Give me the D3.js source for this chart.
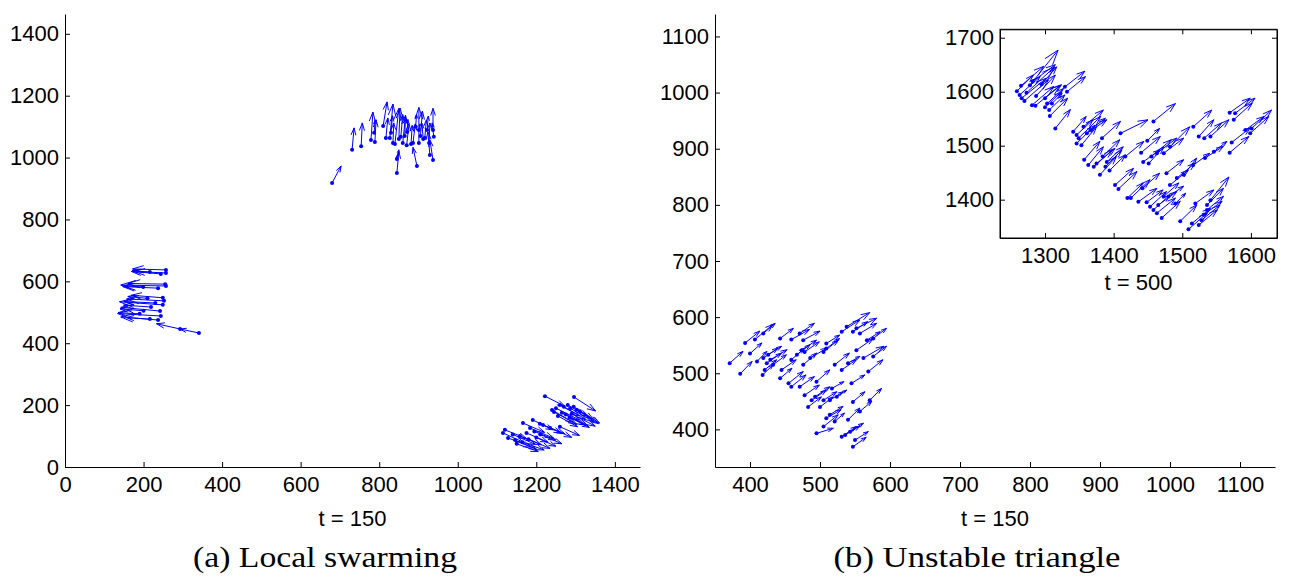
<!DOCTYPE html>
<html>
<head>
<meta charset="utf-8">
<script src="https://cdn.jsdelivr.net/npm/d3@7"></script>
<style>
  body { margin: 0; background: #fff; }
  svg { display: block; }
</style>
</head>
<body>
<svg id="chart" width="1289" height="576"></svg>
<script>
// agents as [x, y, vx, vy]

// (a) local swarming, t = 150
const leftCluster = [
  [257,627,-80,5],[257,637,-85,3],[244,624,-75,8],[216,630,-45,4],
  [257,585,-115,3],[255,591,-95,2],[237,578,-90,5],[199,582,-50,3],
  [249,547,-80,8],[252,537,-95,6],[249,524,-110,10],[219,517,-70,6],
  [242,504,-100,12],[244,488,-110,8],[216,478,-60,5],[237,475,-95,10],
  [293,446,-60,17],[341,433,-48,13],[200,505,-60,6],[230,530,-80,5],
  [190,495,-55,4],[210,545,-50,6]
];
const topCluster = [
  [680,918,23,55],[731,1025,5,71],[754,1037,3,75],[779,1057,5,90],[789,1050,3,72],[787,1080,3,42],
  [810,1102,10,78],[817,1063,5,65],[827,1063,8,110],[835,1047,2,65],[840,1044,10,115],[845,995,5,30],
  [845,950,5,70],[855,1067,5,72],[860,1047,7,90],[871,1083,2,40],[881,1044,3,60],[886,1047,6,62],
  [896,973,-10,60],[901,1047,0,115],[901,1089,3,20],[916,1063,4,58],[922,1089,3,45],[929,1008,-5,75],
  [937,992,-8,65],[937,1089,0,70],[939,1067,-4,45],[927,1047,2,65],
  [850,1060,3,100],[865,1070,2,60],[905,1070,5,80],[912,1060,-3,50],[830,1080,4,55],[870,1040,6,70],[893,1100,2,40]
];
const lowerCluster = [
  [1222,229,50,-32],[1296,226,55,-45],[1240,184,55,-40],[1250,190,60,-38],[1260,200,50,-35],
  [1270,195,55,-40],[1280,200,52,-36],[1286,190,58,-42],[1295,195,50,-40],[1303,185,55,-45],
  [1265,175,60,-40],[1275,170,55,-35],[1290,172,60,-40],[1255,165,50,-35],[1311,180,50,-38],
  [1245,178,58,-40],[1285,160,50,-32],[1166,142,55,-30],[1191,152,52,-32],[1209,140,55,-30],
  [1184,126,60,-33],[1217,136,55,-28],[1235,126,55,-30],[1260,130,50,-28],[1120,120,55,-28],
  [1115,110,52,-30],[1128,94,60,-30],[1146,87,55,-30],[1158,100,55,-28],[1140,105,58,-32],
  [1175,110,55,-30],[1195,115,55,-28],[1200,95,50,-28],[1180,90,55,-30],[1165,80,55,-25],
  [1210,105,55,-30],[1150,75,55,-25]
];

// (b) unstable triangle, t = 150
const triangleNow = [
  [393,554,21,21],[407,560,26,27],[419,571,17,18],[443,562,19,18],[459,560,26,18],[471,571,21,18],
  [476,559,24,16],[371,518,19,21],[386,499,17,22],[400,535,17,19],[410,521,14,18],[418,497,15,18],
  [419,527,21,18],[424,518,21,18],[429,524,24,18],[433,515,19,18],[443,491,17,18],[445,506,21,18],
  [459,524,19,21],[467,533,19,18],[455,482,21,21],[459,476,21,21],[471,476,21,18],[476,515,19,21],
  [486,527,24,18],[495,485,19,21],[505,538,21,21],[509,544,19,18],[521,515,21,21],[531,506,21,18],
  [517,473,17,12],[531,574,26,21],[538,583,33,25],[547,574,21,18],[552,580,29,18],[557,571,24,18],
  [567,559,19,15],[576,562,19,18],[552,541,24,21],[562,527,29,21],[540,518,17,12],[545,482,19,15],
  [569,503,21,21],[576,530,19,18],[571,452,17,21],[547,449,17,18],[478,461,21,18],[483,440,19,18],
  [488,452,21,18],[493,458,21,18],[500,440,19,18],[505,452,19,15],[514,452,19,15],[524,458,14,12],
  [495,393,24,9],[505,405,21,21],[509,420,21,15],[514,426,19,15],[521,414,14,15],[531,387,21,18],
  [536,390,21,16],[543,396,19,15],[547,369,19,17],[550,381,19,15],[557,432,17,18],[540,417,17,21],
  [426,533,19,15],[421,506,17,18],[474,541,21,18],[478,538,21,18],[509,553,19,15]
];

// inset, t = 500
const triangleLater = [
  [1259,1601,24,30],[1265,1611,33,36],[1263,1594,30,34],[1266,1588,36,37],[1270,1583,35,39],
  [1273,1598,41,48],[1278,1612,41,65],[1282,1619,33,31],[1281,1575,32,35],[1286,1574,36,38],
  [1287,1592,28,39],[1295,1614,22,32],[1300,1588,24,25],[1303,1578,24,28],[1300,1571,24,29],
  [1306,1566,23,28],[1307,1555,26,33],[1315,1532,22,35],[1329,1609,29,29],[1332,1600,27,28],
  [1310,1578,15,19],
  [1341,1526,19,28],[1346,1520,24,28],[1349,1514,32,40],[1346,1504,27,34],[1353,1501,22,34],
  [1356,1535,29,31],[1361,1523,29,25],[1366,1529,22,22],[1383,1514,27,31],
  [1357,1474,23,34],[1363,1464,22,34],[1371,1461,27,31],[1375,1467,27,28],[1380,1446,24,34],
  [1388,1461,24,31],[1394,1454,23,29],[1390,1470,24,28],[1384,1480,25,31],
  [1410,1523,40,25],[1458,1545,32,33],[1440,1487,28,30],[1449,1509,18,23],[1443,1470,24,22],
  [1451,1467,22,31],[1455,1480,29,31],[1463,1486,29,28],[1473,1486,29,28],[1482,1498,29,37],
  [1477,1449,25,25],[1402,1427,27,31],[1407,1420,27,32],[1420,1403,23,28],[1425,1403,28,34],
  [1436,1396,27,25],[1442,1421,25,28],[1448,1395,24,23],[1453,1387,24,28],[1458,1381,24,28],
  [1463,1375,27,28],[1470,1366,27,31],[1465,1390,27,25],[1473,1406,22,25],[1480,1406,22,19],
  [1490,1393,15,19],[1482,1427,27,28],[1492,1440,27,28],[1502,1446,19,31],[1516,1464,24,22],
  [1516,1535,27,31],[1524,1517,22,31],[1532,1514,25,28],[1541,1517,27,31],[1533,1477,27,22],
  [1546,1489,19,19],[1569,1561,30,27],[1575,1548,27,31],[1577,1560,29,28],[1569,1487,28,30],
  [1572,1506,27,27],[1592,1529,27,25],[1599,1523,27,31],[1601,1532,29,34],
  [1497,1360,24,30],[1509,1345,27,30],[1514,1356,27,28],[1524,1353,27,28],[1528,1362,27,28],
  [1531,1372,27,25],[1536,1381,24,25],[1519,1393,27,25],[1536,1390,24,31],[1541,1399,27,43],
  [1417,1480,27,28]
];

// tick labels
const ticksA = [0,200,400,600,800,1000,1200,1400];
const ticksBx = [400,500,600,700,800,900,1000,1100];
const ticksBy = [400,500,600,700,800,900,1000,1100];
const ticksInsetX = [1300,1400,1500,1600];
const ticksInsetY = [1400,1500,1600,1700];

const svg = d3.select("#chart");
const tickFont = "'Liberation Sans', Arial, sans-serif";
const blue = "#0000ff";

function styleAxis(g){
  g.attr("font-family", tickFont).attr("font-size", 22);
  g.selectAll("text").attr("fill", "#000");
  g.selectAll("line").attr("stroke", "#000");
  g.select(".domain").attr("stroke", "#000");
}

// quiver: line from agent to tip, open head at tip, dot at agent
function quiver(g, data, sx, sy){
  g.selectAll(null).data(data).join("path")
    .attr("fill", "none")
    .attr("stroke", blue)
    .attr("stroke-width", 1)
    .attr("d", d => {
      let x0 = sx(d[0]), y0 = sy(d[1]);
      let x1 = sx(d[0] + d[2]), y1 = sy(d[1] + d[3]);
      let dx = x1 - x0, dy = y1 - y0;
      let h = 0.33, w = 0.33 * 0.33;
      let ax = x1 - h*dx - w*dy, ay = y1 - h*dy + w*dx;
      let bx = x1 - h*dx + w*dy, by = y1 - h*dy - w*dx;
      return `M${x0},${y0}L${x1},${y1}M${ax},${ay}L${x1},${y1}L${bx},${by}`;
    });
  g.selectAll(null).data(data).join("circle")
    .attr("cx", d => sx(d[0]))
    .attr("cy", d => sy(d[1]))
    .attr("r", 2)
    .attr("fill", blue);
}

function panel(opt){
  let g = svg.append("g");
  let x = d3.scaleLinear().domain(opt.xd).range(opt.xr);
  let y = d3.scaleLinear().domain(opt.yd).range(opt.yr);

  if(opt.box){
    g.append("rect")
      .attr("x", opt.xr[0]).attr("y", opt.yr[1])
      .attr("width", opt.xr[1] - opt.xr[0]).attr("height", opt.yr[0] - opt.yr[1])
      .attr("fill", "#fff").attr("stroke", "#000");
  }

  g.append("g").attr("transform", `translate(0,${opt.yr[0]})`)
    .call(d3.axisBottom(x).tickValues(opt.xt).tickFormat(d3.format("d"))
      .tickSizeInner(-5).tickSizeOuter(0).tickPadding(9))
    .call(styleAxis);
  g.append("g").attr("transform", `translate(${opt.xr[0]},0)`)
    .call(d3.axisLeft(y).tickValues(opt.yt).tickFormat(d3.format("d"))
      .tickSizeInner(-5).tickSizeOuter(0).tickPadding(6))
    .call(styleAxis);

  if(opt.box){
    g.append("g").attr("transform", `translate(0,${opt.yr[1]})`)
      .call(d3.axisTop(x).tickValues(opt.xt).tickFormat("").tickSizeInner(-5).tickSizeOuter(0))
      .call(styleAxis);
    g.append("g").attr("transform", `translate(${opt.xr[1]},0)`)
      .call(d3.axisRight(y).tickValues(opt.yt).tickFormat("").tickSizeInner(-5).tickSizeOuter(0))
      .call(styleAxis);
  }

  g.append("text")
    .attr("x", (opt.xr[0] + opt.xr[1]) / 2)
    .attr("y", opt.labelY)
    .attr("text-anchor", "middle")
    .attr("font-family", tickFont)
    .attr("font-size", 22)
    .text(opt.label);

  let q = g.append("g");
  opt.sets.forEach(s => quiver(q.append("g"), s, x, y));
  return g;
}

panel({
  xd: [0, 1464], xr: [65, 640],
  yd: [0, 1464], yr: [467, 14],
  xt: ticksA, yt: ticksA,
  label: "t = 150", labelY: 526,
  sets: [leftCluster, topCluster, lowerCluster]
});

panel({
  xd: [350, 1150], xr: [715, 1275],
  yd: [333, 1140], yr: [467, 14],
  xt: ticksBx, yt: ticksBy,
  label: "t = 150", labelY: 526,
  sets: [triangleNow]
});

panel({
  xd: [1234.4, 1638], xr: [1000, 1277],
  yd: [1329, 1715.6], yr: [238, 29.3],
  xt: ticksInsetX, yt: ticksInsetY,
  label: "t = 500", labelY: 290,
  box: true,
  sets: [triangleLater]
});

// captions
const captions = [
  {text: "(a) Local swarming", x: 325, w: 264},
  {text: "(b) Unstable triangle", x: 977, w: 287}
];
svg.selectAll(".caption").data(captions).join("text")
  .attr("class", "caption")
  .attr("x", d => d.x)
  .attr("y", 567)
  .attr("text-anchor", "middle")
  .attr("font-family", "'Liberation Serif', 'Times New Roman', serif")
  .attr("font-size", 30)
  .attr("textLength", d => d.w)
  .attr("lengthAdjust", "spacingAndGlyphs")
  .text(d => d.text);
</script>
</body>
</html>
